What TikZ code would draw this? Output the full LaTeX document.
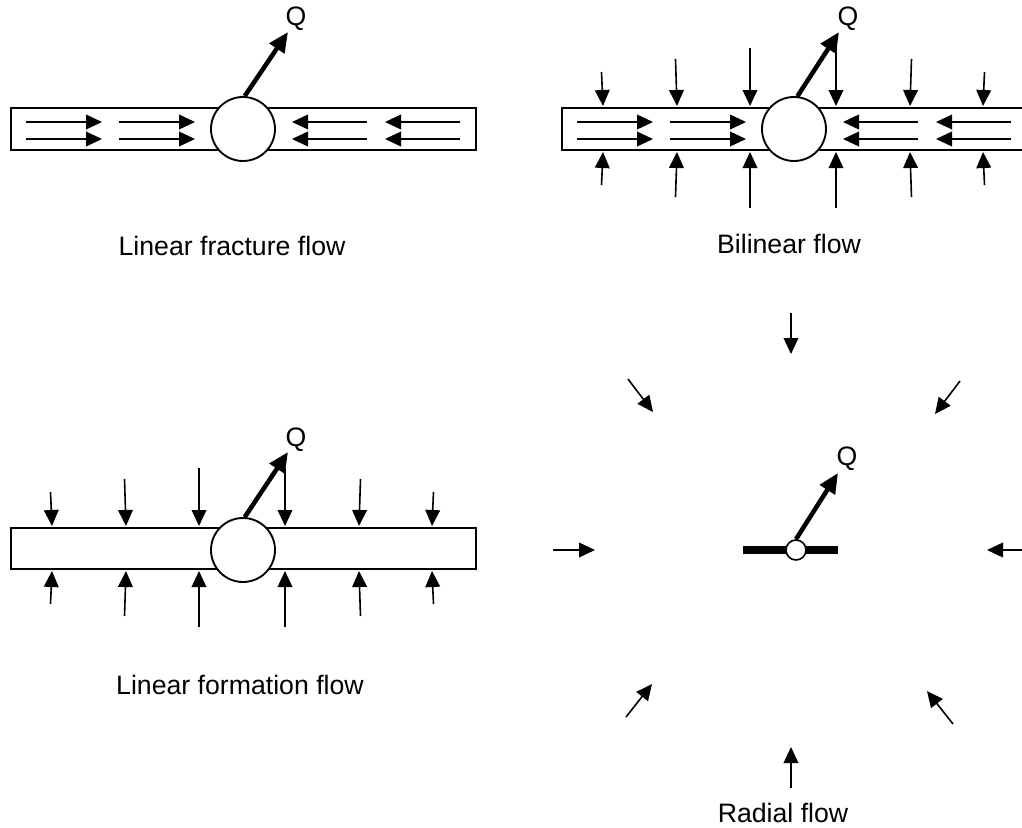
\documentclass[tikz,border=0pt]{standalone}
\usepackage{fontspec}
\setmainfont{Liberation Sans}
\usetikzlibrary{arrows.meta}

\tikzset{
	flow/.style={-{Triangle[length=12pt,width=11pt]}, line width=1.2pt},
	qflow/.style={-{Triangle[length=15pt,width=13pt]}, line width=3.4pt},
	well/.style={circle, draw=black, fill=white, line width=1.4pt, minimum size=48pt, inner sep=0pt},
	smallwell/.style={well, line width=1.2pt, minimum size=15pt},
	caption/.style={anchor=base, font=\fontsize{20}{24}\selectfont},
	qlabel/.style={font=\fontsize{20}{24}\selectfont, inner sep=0pt},
}

\begin{document}
\begin{tikzpicture}[x=0.75pt, y=-0.75pt]
	\useasboundingbox (0,0) rectangle (1022,828);
	\clip (0,0) rectangle (1022,828);

	% fracture strips
	\filldraw[fill=white, draw=black, line width=1.2pt] (11,108) rectangle (476,150);
	\filldraw[fill=white, draw=black, line width=1.2pt] (562,108) rectangle (1040,150);
	\filldraw[fill=white, draw=black, line width=1.2pt] (11,528) rectangle (476,569);

	% flow inside the fracture
	\foreach \s in {0,551}
	{
		\foreach \y in {122,139}
		{
			\draw[flow] (\s+26,\y) -- (\s+102,\y);
			\draw[flow] (\s+119,\y) -- (\s+195,\y);
			\draw[flow] (\s+367,\y) -- (\s+292,\y);
			\draw[flow] (\s+460,\y) -- (\s+385,\y);
		}
	}

	% wells
	\node[well] (wellA) at (243,129) {};
	\node[well] (wellB) at (794,129) {};
	\node[well] (wellC) at (243,550) {};

	% flow from the formation
	\foreach \cx/\top/\bot in {794/108/150, 243/528/569}
	{
		\foreach \dx/\up/\dn/\t in {-191/34/33/-1.5, -117/47/45/-1.5, -44/58/56/0, 42/58/56/0, 116/47/45/1.5, 189/34/33/1.5}
		{
			\draw[flow] (\cx+\dx+\t,\top-2-\up) -- (\cx+\dx,\top-2);
			\draw[flow] (\cx+\dx+\t,\bot+2+\dn) -- (\cx+\dx,\bot+2);
		}
	}

	% radial flow
	\draw[line width=5.4pt] (743,550) -- (838,550);
	\node[smallwell] (wellD) at (796,550) {};
	\foreach \xa/\ya/\xb/\yb in {791/313/791/354, 628/379/653/412, 960/381/935/414, 553/550/595/550, 1030/550/987/550, 626/717/652/684, 953/724/927/691, 791/788/791/747}
	{
		\draw[flow] (\xa,\ya) -- (\xb,\yb);
	}

	% production
	\coordinate (qA) at (288,32);
	\coordinate (qB) at (839,32);
	\coordinate (qC) at (288,452);
	\coordinate (qD) at (838,473);
	\draw[qflow] (wellA.87) -- (qA);
	\draw[qflow] (wellB.84) -- (qB);
	\draw[qflow] (wellC.87) -- (qC);
	\draw[qflow] (wellD.north) -- (qD);
	\node[qlabel] (labA) at (296,19) {Q};
	\node[qlabel] (labB) at (848,19) {Q};
	\node[qlabel] (labC) at (296,440) {Q};
	\node[qlabel] (labD) at (847,459) {Q};

	\node[caption] (capA) at (232,255) {Linear fracture flow};
	\node[caption] (capB) at (789,253) {Bilinear flow};
	\node[caption] (capC) at (240,694) {Linear formation flow};
	\node[caption] (capD) at (783,822) {Radial flow};
\end{tikzpicture}
\end{document}
